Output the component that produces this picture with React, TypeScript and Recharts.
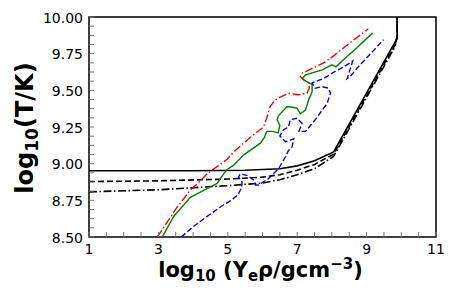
import React from "react";
import { LineChart, Line, XAxis, YAxis, ReferenceArea } from "recharts";

// ---- tick values / labels ----
const xTickValues = [1, 1.5, 2, 2.5, 3, 3.5, 4, 4.5, 5, 5.5, 6, 6.5, 7, 7.5, 8, 8.5, 9, 9.5, 10, 10.5, 11];
const xTickLabels = [1, 3, 5, 7, 9, 11];
const yTickValues = [
  8.5, 8.5625, 8.625, 8.6875, 8.75, 8.8125, 8.875, 8.9375, 9, 9.0625, 9.125, 9.1875, 9.25,
  9.3125, 9.375, 9.4375, 9.5, 9.5625, 9.625, 9.6875, 9.75, 9.8125, 9.875, 9.9375, 10,
];
const yTickLabels = [8.5, 8.75, 9, 9.25, 9.5, 9.75, 10];

// ---- black reference curves ----
const solidX = [1, 4, 5.5, 6.5, 7, 7.5, 8.05, 9.88, 9.88];
const solidY = [8.952, 8.952, 8.955, 8.965, 8.985, 9.02, 9.08, 9.855, 10.0];

const dashedX = [1, 3, 5, 6, 6.5, 7, 7.5, 8.05, 9.83, 9.88, 9.88];
const dashedY = [8.878, 8.883, 8.895, 8.908, 8.925, 8.955, 8.995, 9.065, 9.815, 9.87, 10.0];

const dashdotX = [1, 3, 5, 6, 6.5, 7, 7.5, 8.05, 9.8, 9.88, 9.88];
const dashdotY = [8.808, 8.822, 8.85, 8.868, 8.89, 8.925, 8.965, 9.05, 9.79, 9.86, 10.0];

// ---- coloured tracks ----
const redX = [2.97, 3.5, 3.92, 4.2, 4.4, 4.98, 5.17, 5.65, 6.03, 6.12, 6.22, 6.35, 6.47, 6.75, 7.04, 7.28, 7.35, 7.33, 7.19, 7.09, 7.14, 7.43, 7.75, 8.05, 8.5, 9.05];
const redY = [8.5, 8.69, 8.82, 8.88, 8.93, 9.03, 9.08, 9.18, 9.25, 9.31, 9.39, 9.43, 9.45, 9.48, 9.47, 9.48, 9.515, 9.55, 9.57, 9.594, 9.617, 9.65, 9.686, 9.735, 9.82, 9.92];

const greenX = [3.11, 3.44, 3.92, 4.4, 4.69, 4.88, 4.98, 5.17, 5.46, 5.94, 6.06, 6.12, 6.3, 6.45, 6.5, 6.42, 6.47, 6.71, 6.99, 7.09, 7.24, 7.33, 7.43, 7.43, 7.28, 7.14, 7.24, 7.72, 8.0, 8.12, 8.34, 8.72, 9.17];
const greenY = [8.5, 8.64, 8.77, 8.83, 8.865, 8.93, 8.96, 8.99, 9.06, 9.14, 9.18, 9.22, 9.22, 9.21, 9.26, 9.3, 9.33, 9.39, 9.38, 9.34, 9.366, 9.435, 9.49, 9.54, 9.56, 9.58, 9.605, 9.64, 9.674, 9.66, 9.71, 9.79, 9.89];

const blueX = [3.66, 4.0, 4.4, 4.88, 5.1, 5.3, 5.4, 5.41, 5.31, 5.36, 5.55, 5.74, 5.8, 5.89, 6.18, 6.47, 6.66, 6.75, 6.85, 6.9, 6.8, 6.66, 6.5, 6.6, 6.75, 6.8, 6.99, 7.14, 7.05, 7.24, 7.52, 7.86, 7.96, 7.9, 7.72, 7.52, 7.43, 7.52, 7.76, 8.1, 8.34, 8.6, 8.44, 8.55, 8.72, 9.49];
const blueY = [8.5, 8.57, 8.64, 8.72, 8.75, 8.79, 8.84, 8.876, 8.91, 8.93, 8.92, 8.89, 8.855, 8.855, 8.9, 8.968, 9.047, 9.09, 9.115, 9.17, 9.16, 9.15, 9.19, 9.23, 9.25, 9.3, 9.31, 9.275, 9.22, 9.22, 9.3, 9.41, 9.48, 9.515, 9.525, 9.515, 9.55, 9.56, 9.58, 9.63, 9.66, 9.7, 9.58, 9.6, 9.65, 9.845];

const zip = (xs: number[], ys: number[]) => xs.map((x, i) => ({ x, y: ys[i] }));

const FONT = "DejaVu Sans";

const XTick = (props: any) => {
  const { x, y, payload } = props;
  const v = payload.value;
  const show = xTickLabels.includes(v);
  return (
    <g>
      <line x1={x} y1={y} x2={x} y2={y - 5} stroke="#777" strokeWidth={1} />
      {show && (
        <text x={x} y={y + 17} textAnchor="middle" fontSize={14} fontFamily={FONT} fill="#000">
          {String(v)}
        </text>
      )}
    </g>
  );
};

const YTick = (props: any) => {
  const { x, y, payload } = props;
  const v = payload.value;
  const show = yTickLabels.includes(v);
  return (
    <g>
      <line x1={x} y1={y} x2={x + 5} y2={y} stroke="#777" strokeWidth={1} />
      {show && (
        <text x={x - 6} y={y + 5.5} textAnchor="end" fontSize={14} fontFamily={FONT} fill="#000">
          {v.toFixed(2)}
        </text>
      )}
    </g>
  );
};

const W = 441;
const H = 283;
const M = { top: 9, right: 13, left: 0, bottom: 0 };
const YW = 81;
const XH = 54;

export default function App() {
  const plotCx = YW + (W - YW - M.right) / 2;
  const plotCy = M.top + (H - M.top - XH) / 2 + 1;
  return (
    <div style={{ position: "relative", width: W, height: H }}>
      <LineChart width={W} height={H} margin={M}>
        <XAxis
          dataKey="x"
          type="number"
          domain={[1, 11]}
          ticks={xTickValues}
          interval={0}
          tick={<XTick />}
          tickLine={false}
          axisLine={false}
          tickSize={0}
          tickMargin={0}
          height={XH}
          allowDataOverflow
        />
        <YAxis
          dataKey="y"
          type="number"
          domain={[8.5, 10]}
          ticks={yTickValues}
          interval={0}
          tick={<YTick />}
          tickLine={false}
          axisLine={false}
          tickSize={0}
          tickMargin={0}
          width={YW}
          allowDataOverflow
        />
        <Line data={zip(solidX, solidY)} dataKey="y" type="linear" stroke="#000" strokeWidth={1.6} dot={false} isAnimationActive={false} />
        <Line data={zip(dashedX, dashedY)} dataKey="y" type="linear" stroke="#000" strokeWidth={1.6} strokeDasharray="6 3" dot={false} isAnimationActive={false} />
        <Line data={zip(dashdotX, dashdotY)} dataKey="y" type="linear" stroke="#000" strokeWidth={1.6} strokeDasharray="8 2.5 1.5 2.5" dot={false} isAnimationActive={false} />
        <Line data={zip(redX, redY)} dataKey="y" type="linear" stroke="#ff0000" strokeWidth={1.4} strokeDasharray="8 2.5 1.5 2.5" dot={false} isAnimationActive={false} />
        <Line data={zip(greenX, greenY)} dataKey="y" type="linear" stroke="#008000" strokeWidth={1.4} dot={false} isAnimationActive={false} />
        <Line data={zip(blueX, blueY)} dataKey="y" type="linear" stroke="#0000ff" strokeWidth={1.4} strokeDasharray="5.5 2.5" dot={false} isAnimationActive={false} />
        <ReferenceArea x1={1} x2={11} y1={8.5} y2={10} fill="none" fillOpacity={0} stroke="#000" strokeWidth={1.5} />
      </LineChart>
      <svg width={W} height={H} style={{ position: "absolute", left: 0, top: 0, pointerEvents: "none" }}>
        <text x={plotCx - 2} y={269} textAnchor="middle" fontFamily={FONT} fontWeight="bold" fontSize={21} fill="#000">
          log<tspan fontSize={15} dy={4}>10</tspan>
          <tspan dy={-4}>{" (Y"}</tspan>
          <tspan fontSize={15} dy={4}>e</tspan>
          <tspan dy={-4}>ρ/gcm</tspan>
          <tspan fontSize={15} dy={-8}>−3</tspan>
          <tspan dy={8}>)</tspan>
        </text>
        <text
          x={25}
          y={plotCy}
          transform={`rotate(-90, 25, ${plotCy})`}
          textAnchor="middle"
          fontFamily={FONT}
          fontWeight="bold"
          fontSize={24}
          fill="#000"
        >
          log<tspan fontSize={17} dy={5}>10</tspan>
          <tspan dy={-5}>(T/K)</tspan>
        </text>
      </svg>
    </div>
  );
}
